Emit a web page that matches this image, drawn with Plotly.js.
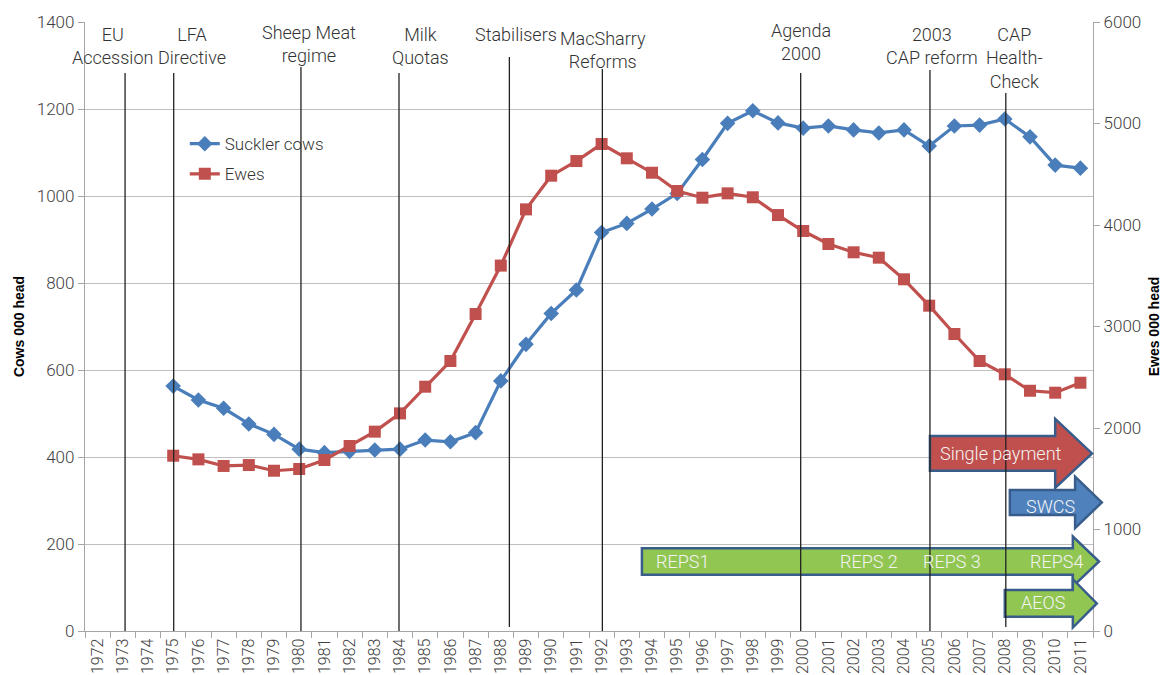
<!DOCTYPE html>
<html>
<head>
<meta charset="utf-8">
<script src="https://cdn.plot.ly/plotly-3.0.1.min.js"></script>
<style>
html,body{margin:0;padding:0;background:#fff;}
#chart{width:1168px;height:675px;}
</style>
</head>
<body>
<div id="chart"></div>
<script>
// ---- data ----
const years = ["1972","1973","1974","1975","1976","1977","1978","1979","1980","1981","1982","1983","1984","1985","1986","1987","1988","1989","1990","1991","1992","1993","1994","1995","1996","1997","1998","1999","2000","2001","2002","2003","2004","2005","2006","2007","2008","2009","2010","2011"];
const sucklerCows = [null,null,null,563,531,512,476,452,418,410,413,416,418,439,435,456,575,659,730,784,916,937,970,1006,1084,1167,1196,1168,1156,1161,1152,1145,1152,1115,1161,1163,1177,1136,1071,1064];
const ewes = [null,null,null,1727,1691,1626,1635,1579,1596,1685,1823,1964,2144,2407,2660,3123,3600,4154,4486,4630,4798,4657,4515,4335,4269,4312,4273,4098,3941,3813,3731,3678,3465,3205,2926,2660,2529,2367,2348,2446];

// policy events: label, position (category index), top of line (px), bottom (px)
const eventLabels = ["EU<br>Accession","LFA<br>Directive","Sheep Meat<br>regime","Milk<br>Quotas","Stabilisers","MacSharry<br>Reforms","Agenda<br>2000","2003<br>CAP reform","CAP<br>Health-<br>Check"];
const eventPos    = [1.09, 3.02, 8.07, 11.96, 16.34, 20.03, 27.9, 33.03, 36.04];
const eventLabelX = [0.58, 3.75, 8.4, 12.8, 16.6, 20.05, 27.9, 33.1, 36.4];
const eventLabelY = [45.5, 45.5, 44, 46, 35, 50, 42, 46, 58];   // label centre, px from top
const eventTopPx  = [73, 73, 67, 73, 57, 69, 73, 70, 93];
const eventBotPx  = [631, 631, 631, 631, 627, 631, 631, 631, 627];

// schemes (arrows) on the ewes axis
const schemeNames  = ["Single payment","SWCS","REPS","AEOS"];
const schemeStart  = [33.03, 36.2, 21.6, 36.0];
const schemeHead   = [38.0, 38.79, 38.7, 38.7];
const schemeTip    = [39.46, 39.85, 39.74, 39.65];
const schemeCentre = [1750, 1267, 685, 272];
const schemeBody   = [172, 123, 131, 131];
const schemeHeadH  = [340, 253, 246, 238];
const schemeFill   = ["#C0504D","#4F81BD","#92C653","#92C653"];
const arrowTexts   = ["Single payment","SWCS","REPS1","REPS 2","REPS 3","REPS4","AEOS"];
const arrowTextX   = [35.85, 37.8, 23.2, 30.6, 33.9, 38.07, 37.5];
const arrowTextV   = [1745, 1230, 683, 683, 683, 683, 276];

// ---- geometry helpers ----
const M = {l:85, r:75, t:22, b:44};
const plotH = 675 - M.t - M.b;
const nCat = years.length;
const xp = i => (i + 0.5) / nCat;           // category index -> paper
const yp2 = v => v / 6000;                  // ewes value -> paper
const pyToPaper = py => (675 - M.b - py) / plotH;

const FONT = "Roboto, 'Liberation Sans', Arial, sans-serif";

const traces = [
  {x: years, y: sucklerCows, name: "Suckler cows", type: "scatter", mode: "lines+markers",
   line: {color: "#4A7EBB", width: 3.2}, marker: {symbol: "diamond", size: 12, color: "#4A7EBB"},
   yaxis: "y", legendgroup: "a", connectgaps: false},
  {x: years, y: ewes, name: "Ewes", type: "scatter", mode: "lines+markers",
   line: {color: "#C0504D", width: 3.2}, marker: {symbol: "square", size: 12, color: "#C0504D"},
   yaxis: "y2", legendgroup: "b"}
];

const shapes = [];
const annotations = [];

for (let k = 0; k < schemeNames.length; k++) {
  const x0 = xp(schemeStart[k]), xh = xp(schemeHead[k]), xt = xp(schemeTip[k]);
  const c = schemeCentre[k], b = schemeBody[k], h = schemeHeadH[k];
  const path = `M ${x0} ${yp2(c+b)} L ${xh} ${yp2(c+b)} L ${xh} ${yp2(c+h)} L ${xt} ${yp2(c)} L ${xh} ${yp2(c-h)} L ${xh} ${yp2(c-b)} L ${x0} ${yp2(c-b)} Z`;
  shapes.push({type: "path", xref: "paper", yref: "paper", path: path,
    fillcolor: schemeFill[k], line: {color: "#385D8A", width: 2.5}, layer: "above"});
}
for (let k = 0; k < arrowTexts.length; k++) {
  annotations.push({xref: "x", yref: "paper", x: arrowTextX[k], y: yp2(arrowTextV[k]),
    text: arrowTexts[k], showarrow: false, xanchor: "center", yanchor: "middle",
    font: {family: FONT, size: 18, color: "#F4F4F4", weight: 300}});
}
for (let k = 0; k < eventLabels.length; k++) {
  shapes.push({type: "line", xref: "x", yref: "paper", x0: eventPos[k], x1: eventPos[k],
    y0: pyToPaper(eventBotPx[k]), y1: pyToPaper(eventTopPx[k]),
    line: {color: "#222", width: 1.3}, layer: "above"});
  annotations.push({xref: "x", yref: "paper", x: eventLabelX[k], y: pyToPaper(eventLabelY[k]),
    text: eventLabels[k], showarrow: false, xanchor: "center", yanchor: "middle",
    font: {family: FONT, size: 18, color: "#333", weight: 300}});
}

const layout = {
  width: 1168, height: 675,
  margin: M,
  paper_bgcolor: "#fff", plot_bgcolor: "#fff",
  font: {family: FONT, color: "#404040", size: 16},
  showlegend: true,
  legend: {x: 0.099, y: 0.829, xanchor: "left", yanchor: "top", bgcolor: "rgba(0,0,0,0)",
    font: {family: FONT, size: 17, color: "#333", weight: 300}, tracegroupgap: 5, traceorder: "grouped"},
  xaxis: {type: "category", categoryorder: "array", categoryarray: years,
    range: [-0.5, nCat - 0.5], tickangle: -90, tickson: "boundaries",
    ticks: "outside", ticklen: 6, tickcolor: "#A6A6A6", showline: true, linecolor: "#A6A6A6", linewidth: 1.3,
    showgrid: false, zeroline: false, tickfont: {family: FONT, size: 16, color: "#404040", weight: 300}},
  yaxis: {range: [0, 1400], dtick: 200, tick0: 0, showgrid: true, gridcolor: "#BFBFBF", gridwidth: 1.3,
    showline: true, linecolor: "#A6A6A6", linewidth: 1.3, ticks: "outside", ticklen: 6, tickcolor: "#A6A6A6",
    zeroline: false, tickfont: {family: FONT, size: 17, color: "#404040", weight: 300},
    title: {text: "Cows 000 head", font: {family: "'Liberation Sans', Arial, sans-serif", size: 14, color: "#000", weight: "bold"}, standoff: 8}},
  yaxis2: {range: [0, 6000], dtick: 1000, tick0: 0, overlaying: "y", side: "right", showgrid: false,
    showline: true, linecolor: "#A6A6A6", linewidth: 1.3, ticks: "outside", ticklen: 6, tickcolor: "#A6A6A6",
    zeroline: false, tickfont: {family: FONT, size: 17, color: "#404040", weight: 300},
    title: {text: "Ewes 000 head", font: {family: "'Liberation Sans', Arial, sans-serif", size: 14, color: "#000", weight: "bold"}, standoff: 8}},
  shapes: shapes,
  annotations: annotations
};

Plotly.newPlot("chart", traces, layout, {displayModeBar: false, responsive: false});
</script>
</body>
</html>
